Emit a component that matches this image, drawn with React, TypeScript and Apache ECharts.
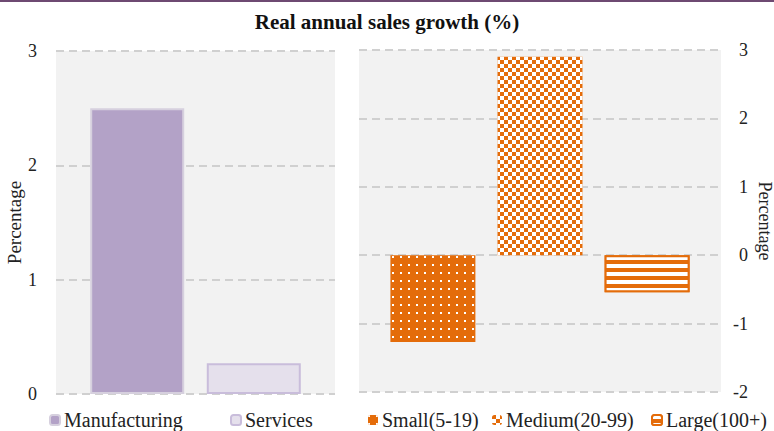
import React, { useEffect, useRef } from "react";
import * as echarts from "echarts";

const titleText = "Real annual sales growth (%)";
const sectorNames = ["Manufacturing", "Services"];
const sectorValues = [2.5, 0.27];
const sizeNames = ["Small(5-19)", "Medium(20-99)", "Large(100+)"];
const sizeValues = [-1.27, 2.9, -0.54];
const axisName = "Percentage";

const FONT = "'Liberation Serif', 'Times New Roman', serif";
const ORANGE = "#e46c0a";
const TEXT = "#222222";

export default function App() {
  const ref = useRef<HTMLDivElement>(null);
  useEffect(() => {
    if (!ref.current) return;
    const chart = echarts.init(ref.current, null, { renderer: "svg" });
    const splitLine = {
      show: true,
      lineStyle: { color: "#d0d0d0", width: 2, type: [8, 5] as any },
    };
    const sectorStyles = [
      { color: "#b3a2c7", borderColor: "#d6d0de", borderWidth: 2 },
      { color: "#e5e0ec", borderColor: "#c9bddb", borderWidth: 2 },
    ];
    const sizeStyles: any[] = [
      {
        color: ORANGE,
        decal: {
          symbol: "rect",
          symbolSize: 1,
          color: "#ffffff",
          dashArrayX: [2, 6],
          dashArrayY: [2, 6],
        },
      },
      {
        color: ORANGE,
        decal: {
          symbol: "rect",
          symbolSize: 1,
          color: "#ffffff",
          dashArrayX: [
            [4, 4],
            [0, 4, 4, 0],
          ],
          dashArrayY: [4, 0],
        },
      },
      {
        color: ORANGE,
        borderColor: ORANGE,
        borderWidth: 2,
        decal: {
          symbol: "rect",
          symbolSize: 1,
          color: "#ffffff",
          dashArrayX: [1, 0],
          dashArrayY: [4, 4],
        },
      },
    ];
    const legendPos = [49, 230, 368, 492, 651];
    const allNames = [...sectorNames, ...sizeNames];
    const option: any = {
      animation: false,
      backgroundColor: "#ffffff",
      textStyle: { fontFamily: FONT },
      title: {
        text: titleText,
        left: "center",
        top: 6,
        textStyle: { fontFamily: FONT, fontSize: 21, fontWeight: "bold", color: "#111" },
      },
      graphic: [
        { type: "rect", left: 0, top: 0, shape: { width: 774, height: 2 }, style: { fill: "#6e4a72" } },
      ],
      legend: allNames.map((n, i) => ({
        data: [n],
        left: legendPos[i],
        top: 410,
        itemWidth: 10,
        itemHeight: 10,
        itemGap: 0,
        padding: 0,
        textStyle: { fontFamily: FONT, fontSize: 20, color: TEXT, padding: [0, 0, 0, -1] },
      })),
      grid: [
        { left: 56, top: 51, width: 279, height: 343, show: true, backgroundColor: "#f2f2f2", borderWidth: 0, containLabel: false, outerBoundsMode: "none" },
        { left: 359, top: 50, width: 362, height: 342, show: true, backgroundColor: "#f2f2f2", borderWidth: 0, containLabel: false, outerBoundsMode: "none" },
      ],
      xAxis: [
        { type: "category", gridIndex: 0, data: [""], axisLine: { show: false }, axisTick: { show: false }, axisLabel: { show: false } },
        { type: "category", gridIndex: 1, data: [""], axisLine: { show: false }, axisTick: { show: false }, axisLabel: { show: false } },
      ],
      yAxis: [
        {
          type: "value",
          gridIndex: 0,
          min: 0,
          max: 3,
          interval: 1,
          position: "left",
          name: axisName,
          nameLocation: "middle",
          nameGap: 29,
          nameRotate: 90,
          nameTextStyle: { fontFamily: FONT, fontSize: 19, color: TEXT },
          axisLine: { show: false },
          axisTick: { show: false },
          axisLabel: { fontFamily: FONT, fontSize: 18, color: TEXT, margin: 19 },
          splitLine,
        },
        {
          type: "value",
          gridIndex: 1,
          min: -2,
          max: 3,
          interval: 1,
          position: "right",
          name: axisName,
          nameLocation: "middle",
          nameGap: 35,
          nameRotate: -90,
          nameTextStyle: { fontFamily: FONT, fontSize: 18, color: TEXT },
          axisLine: { show: false },
          axisTick: { show: false },
          axisLabel: { fontFamily: FONT, fontSize: 18, color: TEXT, margin: 27, align: "right" },
          splitLine,
        },
      ],
      series: [
        ...sectorNames.map((n, i) => ({
          type: "bar",
          name: n,
          xAxisIndex: 0,
          yAxisIndex: 0,
          data: [sectorValues[i]],
          barWidth: 94,
          barGap: "24%",
          itemStyle: sectorStyles[i],
        })),
        ...sizeNames.map((n, i) => ({
          type: "bar",
          name: n,
          xAxisIndex: 1,
          yAxisIndex: 1,
          data: [sizeValues[i]],
          barWidth: 85,
          barGap: "26%",
          itemStyle: sizeStyles[i],
        })),
      ],
    };
    chart.setOption(option);
    return () => chart.dispose();
  }, []);
  return (
    <div
      ref={ref}
      style={{ position: "fixed", left: 0, top: 0, width: 774, height: 431 }}
    />
  );
}
